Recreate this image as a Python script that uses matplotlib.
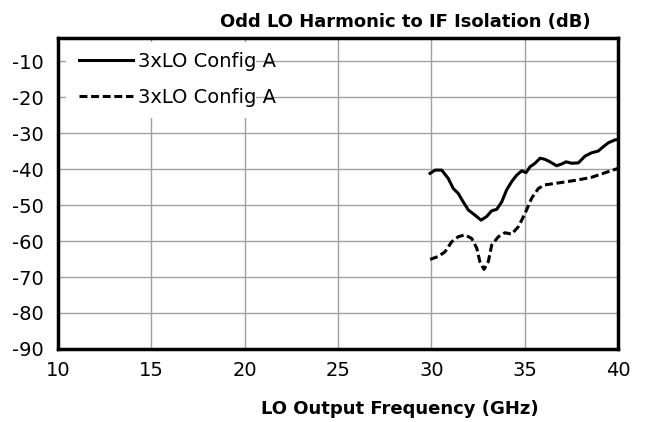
import numpy as np
from matplotlib import pyplot as plt
from matplotlib.patches import Rectangle

plt.rcParams['axes.unicode_minus'] = False

# solid curve
freq_a = [29.93, 30.2, 30.55, 30.9, 31.17, 31.44, 31.7, 31.98, 32.33, 32.66, 32.96,
          33.23, 33.5, 33.77, 34.03, 34.3, 34.57, 34.84, 35.07, 35.28, 35.55, 35.82,
          36.08, 36.35, 36.71, 36.98, 37.21, 37.51, 37.87, 38.23, 38.58, 38.94, 39.21,
          39.48, 39.84, 40.0]
iso_a = [-41.2, -40.3, -40.3, -42.6, -45.4, -46.8, -49.1, -51.4, -52.8, -54.2, -53.2,
         -51.6, -51.2, -49.1, -45.8, -43.5, -41.7, -40.5, -41.0, -39.4, -38.4, -37.0,
         -37.3, -38.0, -39.1, -38.6, -38.0, -38.4, -38.3, -36.4, -35.5, -35.0, -33.8,
         -32.7, -31.9, -31.8]

# dashed curve
freq_b = [29.93, 30.37, 30.73, 31.09, 31.44, 31.8, 32.16, 32.43, 32.6, 32.82, 33.05,
          33.23, 33.59, 33.94, 34.3, 34.66, 35.02, 35.37, 35.73, 36.08, 36.89, 37.78,
          38.58, 39.21, 39.84, 40.0]
iso_b = [-65.1, -64.3, -63.0, -60.2, -58.8, -58.3, -59.3, -62.0, -65.8, -67.9, -65.7,
         -61.1, -58.8, -57.7, -58.1, -56.0, -52.3, -48.1, -45.4, -44.4, -43.8, -43.1,
         -42.3, -41.2, -40.1, -39.8]

xticks = [10, 15, 20, 25, 30, 35, 40]
yticks = [-90, -80, -70, -60, -50, -40, -30, -20, -10]


def plot_isolation():
    fig = plt.figure(figsize=(6.46, 4.22), dpi=100)
    ax = fig.add_axes([0.0898, 0.173, 0.867, 0.737])

    ax.plot(freq_a, iso_a, color='black', linewidth=2.2, label='3xLO Config A')
    ax.plot(freq_b, iso_b, color='black', linewidth=2.2, linestyle=(0, (2.6, 1.2)),
            label='3xLO Config A')

    ax.set_xlim(10, 40)
    ax.set_ylim(-90, -3.6)
    ax.set_xticks(xticks)
    ax.set_yticks(yticks)
    ax.tick_params(axis='x', labelsize=14, length=0, pad=9)
    ax.tick_params(axis='y', labelsize=14, length=0, pad=10)
    ax.grid(True, color='#a0a0a0', linewidth=1)
    for spine in ax.spines.values():
        spine.set_linewidth(2.5)

    # white patch behind the legend, narrower than its text
    ax.add_patch(Rectangle((0.014, 0.743), 0.34, 0.244, transform=ax.transAxes,
                           facecolor='white', edgecolor='none', zorder=1.8))

    ax.legend(loc='upper left', bbox_to_anchor=(0.014, 1.0), fontsize=14, frameon=False,
              handlelength=2.73, handletextpad=0.26, labelspacing=0.91,
              borderaxespad=0.3)

    ax.set_title('Odd LO Harmonic to IF Isolation (dB)', fontsize=13, fontweight='bold',
                 x=0.62, pad=8)
    ax.set_xlabel('LO Output Frequency (GHz)', fontsize=13, fontweight='bold',
                  x=0.61, labelpad=14)

    fig.savefig('out.png', dpi=100)


plot_isolation()
